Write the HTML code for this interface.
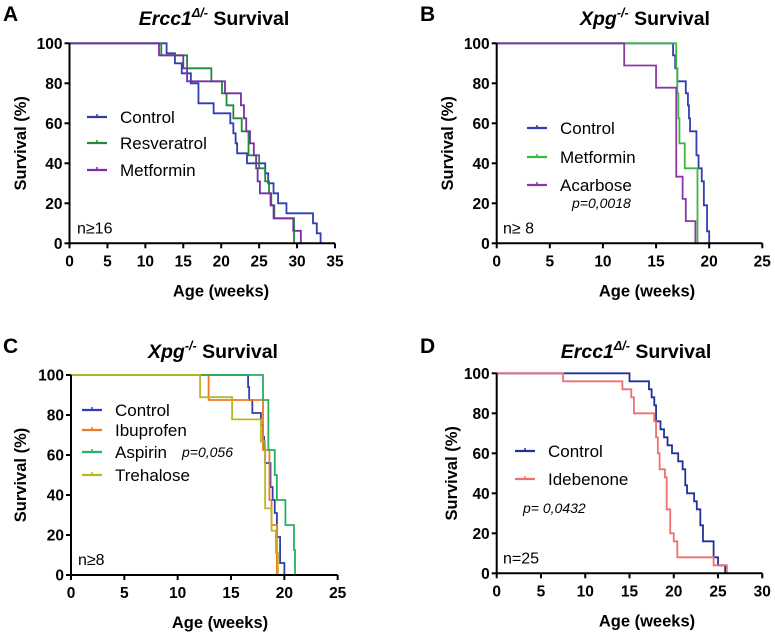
<!DOCTYPE html>
<html><head><meta charset="utf-8"><style>
body{margin:0;background:#fff;}
svg text{font-family:"Liberation Sans",Arial,sans-serif;}
</style></head><body>
<svg id="fig" width="775" height="636" viewBox="0 0 775 636" xmlns="http://www.w3.org/2000/svg"></svg>
<script>
// ---- Panel A data ----
const aCtrlT=[12.8,13.9,14.8,16,17,19,21.2,21.6,21.9,22.1,23.4,25.8,26.2,26.9,27.5,28.6,32.1,32.6,33.1];
const aCtrlS=[95,90,85,80,70,65,60,55,50,45,40,35,30,25,20,15,10,5,0];
const aResT=[12.1,15.5,18.7,20.1,20.7,21.6,22.7,23.6,25,25.8,26.3,26.6,27,29.6];
const aResS=[94,87.5,81,75,69,62.5,56,44,37.5,31,25,19,12.5,0];
const aMetT=[11.8,15,15.5,20.5,22.6,23,23.3,23.8,24.3,24.6,24.8,25.1,26.5,26.9,29.5,30.5];
const aMetS=[94,87.5,81,75,69,62.5,56,50,44,37.5,31,25,19,12.5,6.25,0];
// ---- Panel B data ----
const bCtrlT=[16.6,16.8,17,17.8,18,18.1,18.2,18.8,19,19.3,19.5,19.8,20];
const bCtrlS=[94,87.5,81,75,69,62.5,56,44,37.5,31,19,6,0];
const bMetT=[16.9,17,17.1,17.2,17.7,18.9];
const bMetS=[87.5,75,62.5,50,37.5,0];
const bAcaT=[12,15,16.9,17.5,17.8,18.7];
const bAcaS=[88.9,77.8,33.3,22.2,11.1,0];
// ---- Panel C data ----
const cCtrlT=[16.6,16.7,17,17.8,18,18.1,18.2,18.7,18.9,19.1,19.3,19.6,20];
const cCtrlS=[94,87.5,81,75,69,62.5,56,44,37.5,31,19,6,0];
const cIbuT=[12.9,18,18.6,18.8,19.3];
const cIbuS=[87.5,62.5,37.5,25,0];
const cAspT=[18,18.5,19.1,19.3,20.1,20.9,21];
const cAspS=[87.5,62.5,50,37.5,25,12.5,0];
const cTreT=[12.1,15.1,17.8,18.2,18.8,19.2,19.4];
const cTreS=[88.9,77.8,66.7,33.3,22.2,11.1,0];
// ---- Panel D data ----
const dCtrlT=[15,17.2,17.5,17.8,18,18.5,18.9,19.3,19.8,20.5,21,21.3,21.5,22.3,22.6,23,23.3,24.5,25,25.8];
const dCtrlS=[96,92,88,84,76,72,68,64,60,56,52,44,40,36,32,24,16,8,4,0];
const dIdeT=[7.5,14.2,15.2,15.5,17.8,18,18.2,18.4,19,19.2,19.6,20,20.4,24.5,26];
const dIdeS=[96,92,88,80,76,68,60,52,48,32,20,16,8,4,0];
const yTicks=[0,20,40,60,80,100];
const aXTicks=[0,5,10,15,20,25,30,35];
const bXTicks=[0,5,10,15,20,25];
const dXTicks=[0,5,10,15,20,25,30];

const NS='http://www.w3.org/2000/svg';
const fig=document.getElementById('fig');
function mk(tag,attrs,parent,txt){const e=document.createElementNS(NS,tag);for(const k in attrs)e.setAttribute(k,attrs[k]);if(txt!==undefined)e.textContent=txt;(parent||fig).appendChild(e);return e;}

function panel(p){
  const g=mk('g',{});
  
  
  const xs=v=>p.x0+(v/p.xmax)*(p.x1-p.x0);
  const ys=v=>p.y0-(v/100)*(p.y0-p.y1);
  p.series.forEach(s=>{
    let d='M'+xs(0)+','+ys(100);
    for(let i=0;i<s.t.length;i++){d+=' H'+xs(s.t[i])+' V'+ys(s.s[i]);}
    const path=mk('path',{d:d,fill:'none',stroke:s.c,'stroke-width':1.8},g);
    
    
  });
  const ax=mk('path',{d:'M'+p.x0+','+p.y1+' V'+p.y0+' H'+p.x1,fill:'none',stroke:'#000','stroke-width':2},g);
  
  
  yTicks.forEach(v=>{
    mk('line',{x1:p.x0-5,x2:p.x0,y1:ys(v),y2:ys(v),stroke:'#000','stroke-width':2},g);
    const t=mk('text',{x:p.x0-7,y:ys(v)+5.5,'text-anchor':'end','font-size':15.5,'font-weight':'bold'},g,v);
    
    
  });
  p.xt.forEach(v=>{
    mk('line',{x1:xs(v),x2:xs(v),y1:p.y0,y2:p.y0+5,stroke:'#000','stroke-width':2},g);
    const t=mk('text',{x:xs(v),y:p.y0+23,'text-anchor':'middle','font-size':15.5,'font-weight':'bold'},g,v);
    
    
  });
  const yt=mk('text',{x:0,y:0,transform:'translate('+p.ytx+','+((p.y0+p.y1)/2)+') rotate(-90)','text-anchor':'middle','font-size':16.5,'font-weight':'bold'},g,'Survival (%)');
  
  
  const xt=mk('text',{x:p.xtx,y:p.y0+53,'text-anchor':'middle','font-size':16.5,'font-weight':'bold'},g,'Age (weeks)');
  
  
  const tt=mk('text',{x:p.tx,y:p.ty,'text-anchor':'middle','font-size':19.5,'font-weight':'bold'},g);
  
  
  mk('tspan',{'font-style':'italic'},tt,p.gene);
  mk('tspan',{'font-style':'italic','font-size':12.5,dy:-8},tt,p.sup);
  mk('tspan',{dy:8},tt,' Survival');
  const lt=mk('text',{x:p.lx,y:p.ly,'font-size':21,'font-weight':'bold'},g,p.letter);
  
  
  p.series.forEach((s,i)=>{
    const yy=p.legY[i];
    const l=mk('line',{x1:p.legX,x2:p.legX+20,y1:yy,y2:yy,stroke:s.c,'stroke-width':2.2},g);
    
    
    mk('line',{x1:p.legX+10,x2:p.legX+10,y1:yy-3,y2:yy,stroke:s.c,'stroke-width':1.5},g);
    const t=mk('text',{x:p.legX+33,y:yy+6,'font-size':17},g,s.name);
    
    
  });
  const nt=mk('text',{x:p.nx,y:p.y0-10,'font-size':16},g,p.n);
  
  
  if(p.pv){const pt=mk('text',{x:p.pv[0],y:p.pv[1],'font-size':14,'font-style':'italic'},g,p.pv[2]);
    
    }
}
panel({id:'a',letter:'A',lx:3,ly:21,gene:'Ercc1',sup:'Δ/-',tx:214,ty:25,x0:69.5,x1:335,y0:243.3,y1:43.3,xmax:35,xt:aXTicks,ytx:26,xtx:221,
  series:[{name:'Control',c:'#2f3fb0',t:aCtrlT,s:aCtrlS},{name:'Resveratrol',c:'#1e8a3a',t:aResT,s:aResS},{name:'Metformin',c:'#7b2fa6',t:aMetT,s:aMetS}],
  legX:87,legY:[117,143,170],nx:77,n:'n≥16'});
panel({id:'b',letter:'B',lx:420,ly:21,gene:'Xpg',sup:'-/-',tx:645,ty:25,x0:496.7,x1:762.3,y0:243.3,y1:43.3,xmax:25,xt:bXTicks,ytx:453,xtx:647,
  series:[{name:'Control',c:'#2f3fb0',t:bCtrlT,s:bCtrlS},{name:'Metformin',c:'#3cb83c',t:bMetT,s:bMetS},{name:'Acarbose',c:'#8a3aa6',t:bAcaT,s:bAcaS}],
  legX:527,legY:[128,157,185],nx:503,n:'n≥ 8',pv:[572,208,'p=0,0018']});
panel({id:'c',letter:'C',lx:3,ly:353,gene:'Xpg',sup:'-/-',tx:213,ty:358,x0:71,x1:337.7,y0:575,y1:375,xmax:25,xt:bXTicks,ytx:26,xtx:220,
  series:[{name:'Control',c:'#2f3fb0',t:cCtrlT,s:cCtrlS},{name:'Ibuprofen',c:'#f07820',t:cIbuT,s:cIbuS},{name:'Aspirin',c:'#28b060',t:cAspT,s:cAspS},{name:'Trehalose',c:'#b8b820',t:cTreT,s:cTreS}],
  legX:82,legY:[410,430,452,475],nx:78,n:'n≥8',pv:[182,457,'p=0,056']});
panel({id:'d',letter:'D',lx:420,ly:353,gene:'Ercc1',sup:'Δ/-',tx:636,ty:358,x0:496.7,x1:762.3,y0:573.3,y1:373.3,xmax:30,xt:dXTicks,ytx:457,xtx:647,
  series:[{name:'Control',c:'#22309a',t:dCtrlT,s:dCtrlS},{name:'Idebenone',c:'#f07070',t:dIdeT,s:dIdeS}],
  legX:515,legY:[451,479],nx:503,n:'n=25',pv:[523,513,'p= 0,0432']});
</script>
</body></html>
